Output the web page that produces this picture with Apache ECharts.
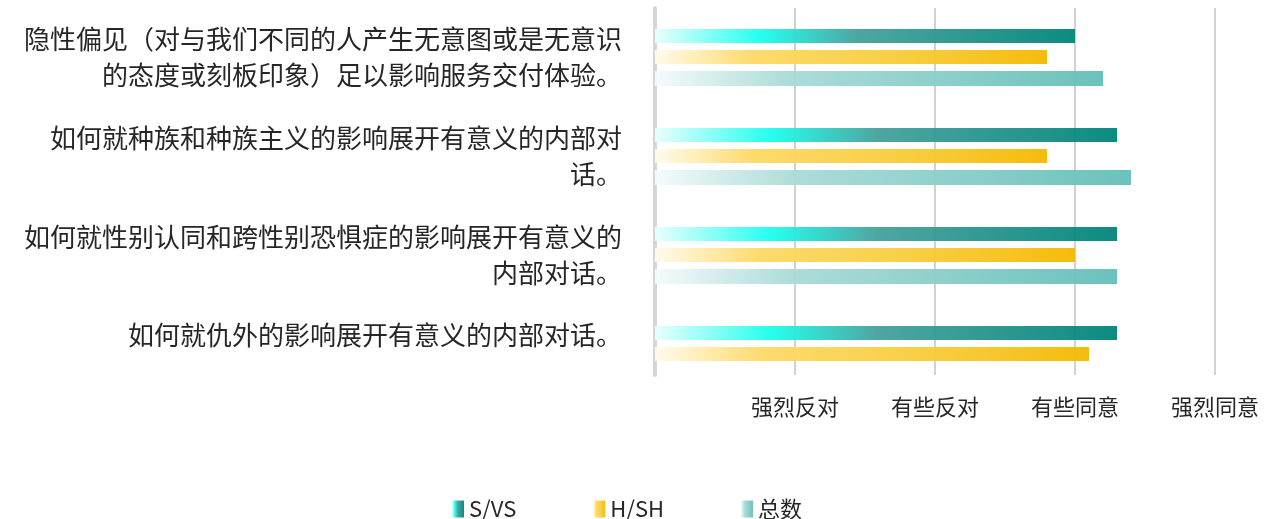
<!DOCTYPE html>
<html>

<head>
    <title></title>
    <meta charset="utf-8">
    <script src="https://cdn.jsdelivr.net/npm/echarts@6/dist/echarts.min.js"></script>
    <style>
        body {
            margin: 0;
            background: #fff;
        }

        #main {
            width: 1277px;
            height: 519px;
        }
    </style>
</head>

<body>
    <div id="main"></div>
    <script type="text/javascript">
        // 类别（自上而下）
        var categories = [
            '隐性偏见（对与我们不同的人产生无意图或是无意识\n的态度或刻板印象）足以影响服务交付体验。',
            '如何就种族和种族主义的影响展开有意义的内部对\n话。',
            '如何就性别认同和跨性别恐惧症的影响展开有意义的\n内部对话。',
            '如何就仇外的影响展开有意义的内部对话。'
        ];
        var tickLabels = ['', '强烈反对', '有些反对', '有些同意', '强烈同意'];
        var seriesNames = ['S/VS', 'H/SH', '总数'];
        var svsData = [3.0, 3.3, 3.3, 3.3];
        var hshData = [2.8, 2.8, 3.0, 3.1];
        var totalData = [3.2, 3.4, 3.3, null];

        function grad(stops) {
            return new echarts.graphic.LinearGradient(0, 0, 1, 0, stops);
        }

        var font = '"Noto Sans CJK SC", "Noto Sans", sans-serif';
        var myChart = echarts.init(document.getElementById('main'));

        var option = {
            animation: false,
            textStyle: { fontFamily: font },
            grid: [
                { left: 655, right: 62, top: 8, height: 396 },
                { left: 655, right: 62, top: 8, height: 367 }
            ],
            legend: {
                data: seriesNames,
                left: 447,
                top: 493,
                icon: 'rect',
                itemWidth: 12,
                itemHeight: 17,
                itemGap: 77,
                textStyle: { fontSize: 22, color: '#262626', fontFamily: font }
            },
            xAxis: [{
                gridIndex: 0,
                type: 'value',
                min: 0,
                max: 4,
                interval: 1,
                axisLine: { show: false },
                axisTick: { show: false },
                axisLabel: { show: false },
                splitLine: { show: false }
            }, {
                gridIndex: 1,
                type: 'value',
                min: 0,
                max: 4,
                interval: 1,
                axisLine: { show: false },
                axisTick: { show: false },
                axisLabel: {
                    margin: 21,
                    fontSize: 22,
                    color: '#262626',
                    formatter: function (v) { return tickLabels[Math.round(v)]; }
                },
                splitLine: { show: true, lineStyle: { color: '#d2d2d2', width: 2 } }
            }],
            yAxis: [{
                gridIndex: 0,
                type: 'category',
                inverse: true,
                data: categories,
                axisLine: { show: false },
                axisTick: { show: false },
                axisLabel: {
                    margin: 33,
                    fontSize: 26,
                    lineHeight: 36,
                    align: 'right',
                    color: '#262626',
                    // 最后一个类别只有两根柱子，原图里它的标签偏上
                    formatter: function (v, i) {
                        return i === categories.length - 1 ? '{up|' + v + '}' : v;
                    },
                    rich: {
                        up: {
                            fontSize: 26,
                            lineHeight: 36,
                            color: '#262626',
                            padding: [0, 0, 38, 0]
                        }
                    }
                }
            }, {
                gridIndex: 1,
                type: 'value',
                min: 0,
                max: 1,
                axisLine: { show: true, lineStyle: { color: '#d6d6d6', width: 4 } },
                axisTick: { show: false },
                axisLabel: { show: false },
                splitLine: { show: false }
            }],
            series: [{
                name: seriesNames[0],
                type: 'bar',
                data: svsData,
                barWidth: 14,
                barGap: '50%',
                itemStyle: {
                    opacity: 0.95,
                    color: grad([
                        { offset: 0, color: '#e8fffd' },
                        { offset: 0.25, color: '#1affee' },
                        { offset: 0.48, color: '#45a19c' },
                        { offset: 1, color: '#00857a' }
                    ])
                }
            }, {
                name: seriesNames[1],
                type: 'bar',
                data: hshData,
                barWidth: 14,
                barGap: '50%',
                itemStyle: {
                    opacity: 0.95,
                    color: grad([
                        { offset: 0, color: '#fffbec' },
                        { offset: 0.25, color: '#fdd865' },
                        { offset: 0.6, color: '#f7cd3c' },
                        { offset: 1, color: '#f4b800' }
                    ])
                }
            }, {
                name: seriesNames[2],
                type: 'bar',
                data: totalData,
                barWidth: 15,
                barGap: '50%',
                itemStyle: {
                    opacity: 0.95,
                    color: grad([
                        { offset: 0, color: '#f4fbfb' },
                        { offset: 0.3, color: '#a8dad6' },
                        { offset: 1, color: '#63beb8' }
                    ])
                }
            }]
        };

        myChart.setOption(option);
    </script>
</body>

</html>
